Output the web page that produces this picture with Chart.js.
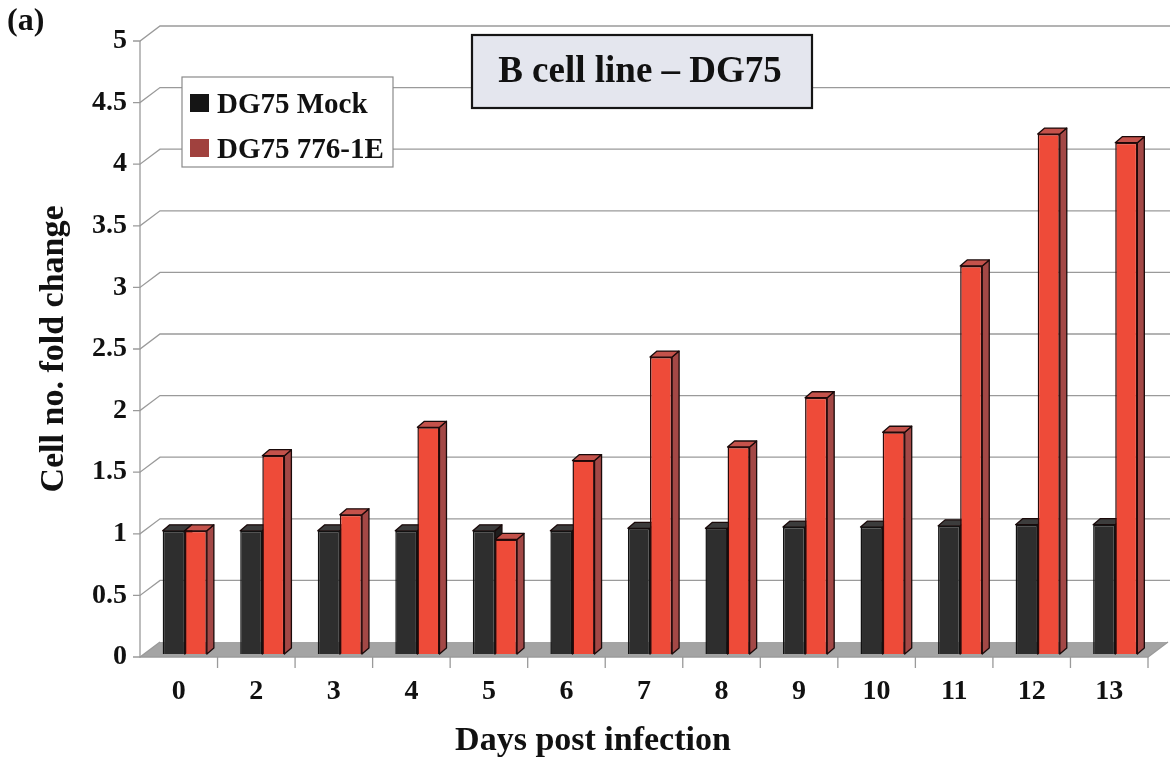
<!DOCTYPE html>
<html>
<head>
<meta charset="utf-8">
<script src="https://cdn.jsdelivr.net/npm/chart.js@4.4.1/dist/chart.umd.min.js"></script>
<style>
  html, body { margin: 0; padding: 0; background: #ffffff; }
  #c { display: block; }
</style>
</head>
<body>
<canvas id="c" width="1170" height="759"></canvas>
<script>
// ---- data ----
const days = ['0', '2', '3', '4', '5', '6', '7', '8', '9', '10', '11', '12', '13'];
const mockValues = [1.00, 1.00, 1.00, 1.00, 1.00, 1.00, 1.02, 1.02, 1.03, 1.03, 1.04, 1.05, 1.05];
const infectedValues = [1.00, 1.61, 1.13, 1.84, 0.93, 1.57, 2.41, 1.68, 2.08, 1.80, 3.15, 4.22, 4.15];
const yTickLabels = ['0', '0.5', '1', '1.5', '2', '2.5', '3', '3.5', '4', '4.5', '5'];
const seriesNames = ['DG75 Mock', 'DG75 776-1E'];
const chartTitle = 'B cell line \u2013 DG75';
const xTitle = 'Days post infection';
const yTitle = 'Cell no. fold change';
const panelLabel = '(a)';

const FONT = '"Liberation Serif", "Times New Roman", serif';

const DX = 20, DY = 15;      // back-wall offset
const BD = 7, BE = 6;        // bar depth offset
const SHIFT_X = 6, SHIFT_Y = -3;

const deco = {
  id: 'deco',
  beforeDatasetsDraw(chart) {
    const { ctx, chartArea: a, scales: { x, y } } = chart;
    ctx.save();
    // floor
    ctx.fillStyle = '#a4a4a4';
    ctx.beginPath();
    ctx.moveTo(a.left, a.bottom);
    ctx.lineTo(a.left + DX, a.bottom - DY);
    ctx.lineTo(a.right + DX, a.bottom - DY);
    ctx.lineTo(a.right, a.bottom);
    ctx.closePath();
    ctx.fill();
    // back wall gridlines
    ctx.strokeStyle = '#9a9a9a';
    ctx.lineWidth = 1.3;
    y.ticks.forEach(t => {
      const py = y.getPixelForValue(t.value);
      ctx.beginPath();
      ctx.moveTo(a.left - 7, py);
      ctx.lineTo(a.left, py);
      ctx.lineTo(a.left + DX, py - DY);
      if (t.value > 0) ctx.lineTo(chart.width, py - DY);
      ctx.stroke();
    });
    // front axes
    ctx.beginPath();
    ctx.moveTo(a.left, y.getPixelForValue(y.max));
    ctx.lineTo(a.left, a.bottom);
    ctx.lineTo(a.right, a.bottom);
    ctx.lineTo(a.right + DX, a.bottom - DY);
    ctx.stroke();
    // x tick marks between categories
    for (let i = 1; i <= days.length; i++) {
      const px = x.getPixelForValue(i - 0.5);
      ctx.beginPath();
      ctx.moveTo(px, a.bottom);
      ctx.lineTo(px, a.bottom + 11);
      ctx.stroke();
    }
    ctx.restore();

    // 3D faces of bars (drawn before the library's front faces)
    ctx.save();
    ctx.translate(SHIFT_X, SHIFT_Y);
    for (let i = 0; i < days.length; i++) {
      chart.data.datasets.forEach((ds, di) => {
        const bar = chart.getDatasetMeta(di).data[i];
        const p = bar.getProps(['x', 'y', 'base', 'width'], true);
        const left = p.x - p.width / 2, right = p.x + p.width / 2;
        ctx.lineWidth = 1.3;
        ctx.strokeStyle = '#1a0a0a';
        ctx.lineJoin = 'round';
        // side face
        ctx.fillStyle = ds.sideColor;
        ctx.beginPath();
        ctx.moveTo(right, p.y);
        ctx.lineTo(right + BD, p.y - BE);
        ctx.lineTo(right + BD, p.base - BE);
        ctx.lineTo(right, p.base);
        ctx.closePath();
        ctx.fill(); ctx.stroke();
        // top face
        ctx.fillStyle = ds.topColor;
        ctx.beginPath();
        ctx.moveTo(left, p.y);
        ctx.lineTo(left + BD, p.y - BE);
        ctx.lineTo(right + BD, p.y - BE);
        ctx.lineTo(right, p.y);
        ctx.closePath();
        ctx.fill(); ctx.stroke();
      });
    }
    // keep translation for the library's bar fronts
  },
  afterDatasetsDraw(chart) {
    chart.ctx.restore();
  },
  afterDraw(chart) {
    const { ctx } = chart;
    ctx.save();
    // panel label
    ctx.fillStyle = '#111';
    ctx.font = 'bold 32px ' + FONT;
    ctx.textAlign = 'left';
    ctx.textBaseline = 'middle';
    ctx.fillText(panelLabel, 7, 22);

    // title box
    ctx.fillStyle = '#e4e6ee';
    ctx.fillRect(472, 35, 340, 73);
    ctx.strokeStyle = '#151515';
    ctx.lineWidth = 2.2;
    ctx.strokeRect(472, 35, 340, 73);
    ctx.fillStyle = '#111';
    ctx.font = 'bold 37px ' + FONT;
    ctx.textAlign = 'center';
    ctx.textBaseline = 'middle';
    ctx.fillText(chartTitle, 640, 72);

    // legend box
    ctx.fillStyle = '#ffffff';
    ctx.fillRect(182, 77, 211, 90);
    ctx.strokeStyle = '#8a8a8a';
    ctx.lineWidth = 1.2;
    ctx.strokeRect(182, 77, 211, 90);
    ctx.font = 'bold 29px ' + FONT;
    ctx.textAlign = 'left';
    ctx.textBaseline = 'alphabetic';
    chart.data.datasets.forEach((ds, i) => {
      const cy = 103 + i * 45;
      ctx.fillStyle = ds.legendColor;
      ctx.fillRect(190, cy - 9, 19, 18);
      ctx.fillStyle = '#111';
      ctx.fillText(ds.label, 217, cy + 10);
    });

    // x axis title
    ctx.fillStyle = '#111';
    ctx.font = 'bold 34px ' + FONT;
    ctx.textAlign = 'center';
    ctx.textBaseline = 'alphabetic';
    ctx.fillText(xTitle, 593, 750);
    ctx.restore();
  }
};

new Chart(document.getElementById('c'), {
  type: 'bar',
  data: {
    labels: days,
    datasets: [
      {
        label: seriesNames[0],
        data: mockValues,
        backgroundColor: '#2e2e2e',
        borderColor: '#111111',
        borderWidth: 1.5,
        sideColor: '#1e1e1e',
        topColor: '#3c3c3c',
        legendColor: '#151515',
        barPercentage: 1.0,
        categoryPercentage: 0.57
      },
      {
        label: seriesNames[1],
        data: infectedValues,
        backgroundColor: '#ee4b39',
        borderColor: '#2a0a0a',
        borderWidth: 1.5,
        sideColor: '#a34846',
        topColor: '#c4524b',
        legendColor: '#a0413e',
        barPercentage: 1.0,
        categoryPercentage: 0.57
      }
    ]
  },
  options: {
    responsive: false,
    animation: false,
    devicePixelRatio: 1,
    layout: { padding: { left: 0, right: 22, top: 41, bottom: 0 } },
    plugins: {
      legend: { display: false },
      tooltip: { enabled: false },
      title: { display: false }
    },
    scales: {
      x: {
        grid: { display: false, drawTicks: false },
        border: { display: false },
        ticks: {
          font: { family: FONT, weight: 'bold', size: 28 },
          color: '#111',
          padding: 18,
          maxRotation: 0,
          autoSkip: false
        },
        afterFit(s) { s.height = 102; }
      },
      y: {
        min: 0,
        max: 5,
        grid: { display: false, drawTicks: false },
        border: { display: false },
        ticks: {
          stepSize: 0.5,
          font: { family: FONT, weight: 'bold', size: 28 },
          color: '#111',
          padding: 13,
          callback: (v, i) => yTickLabels[i]
        },
        title: {
          display: true,
          text: yTitle,
          font: { family: FONT, weight: 'bold', size: 34 },
          color: '#111',
          padding: { top: 34, bottom: 0 }
        },
        afterFit(s) { s.width = 140; }
      }
    }
  },
  plugins: [deco]
});
</script>
</body>
</html>
